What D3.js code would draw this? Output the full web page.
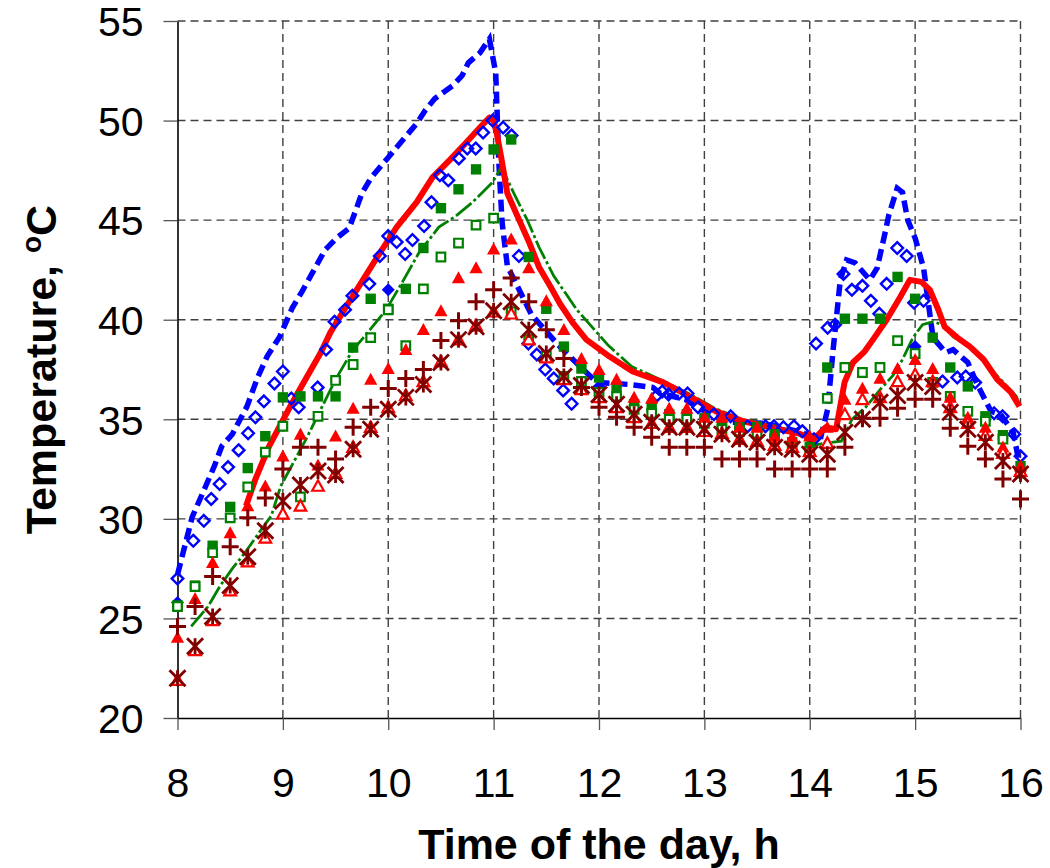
<!DOCTYPE html>
<html>
<head>
<meta charset="utf-8">
<script src="https://cdn.jsdelivr.net/npm/d3@7"></script>
<style>
  body { margin: 0; background: #fff; }
  svg { display: block; font-family: "Liberation Sans", Arial, sans-serif; }
</style>
</head>
<body>
<svg id="chart" width="1050" height="868"></svg>
<script>
'use strict';

// sampling grid of the logged series, minutes after 8:00
const minutes = [0, 10, 20, 30, 40, 50, 60, 70, 80, 90, 100, 110, 120, 130, 140, 150, 160,
  170, 180, 190, 200, 210, 220, 230, 240, 250, 260, 270, 280, 290, 300, 310, 320, 330,
  340, 350, 360, 370, 380, 390, 400, 410, 420, 430, 440, 450, 460, 470, 480];

const plusTemps = [24.6, 25.6, 27.1, 28.6, 30.05, 31.05, 32.5, 33.6, 33.6, 33.0,
  34.6, 35.6, 36.55, 37.05, 37.5, 38.95, 39.95, 40.9, 41.5, 42.1,
  40.9, 39.5, 38.05, 36.6, 35.6, 35.1, 34.6, 34.1, 33.6, 33.6,
  33.6, 33.0, 33.0, 33.0, 32.5, 32.5, 32.5, 32.5, 33.6, 35.05,
  35.05, 35.55, 36.0, 36.0, 34.55, 33.65, 33.0, 32.0, 31.0];

const starTemps = [22.0, 23.6, 25.1, 26.65, 28.1, 29.4, 30.9, 31.7, 32.4, 32.2,
  33.5, 34.5, 35.5, 36.1, 36.75, 37.85, 39.0, 39.65, 40.45, 40.9,
  39.5, 38.3, 37.15, 36.7, 36.25, 35.75, 35.25, 34.85, 34.6, 34.6,
  34.5, 34.25, 34.0, 33.85, 33.6, 33.5, 33.25, 33.25, 34.35, 35.0,
  35.85, 36.2, 36.85, 36.65, 35.35, 34.5, 33.85, 32.9, 32.25];

const triFilledTemps = [24.05, 26.0, 27.8, 29.3, 30.65, 31.65, 33.15, 34.25, 32.7, 34.15,
  35.55, 37.0, 37.55, 38.5, 39.5, 40.45, 42.1, 42.6, 43.55, 44.05,
  42.6, 40.95, 39.5, 38.05, 37.5, 37.0, 36.1, 36.05, 35.55, 35.55,
  35.1, 35.1, 34.6, 34.6, 34.15, 34.1, 34.15, 34.6, 36.0, 36.55,
  37.05, 37.55, 38.0, 37.55, 36.1, 35.1, 34.6, 33.6, 32.65];

const triOpenTemps = [21.9, 23.4, 24.9, 26.4, 27.85, 29.05, 30.25, 30.65, 31.65, 32.3,
  33.6, 34.6, 35.6, 36.2, 36.9, 37.9, 39.0, 39.7, 40.4, 40.3,
  39.0, 38.1, 37.0, 36.5, 36.1, 35.6, 35.1, 34.8, 34.6, 34.6,
  34.4, 34.3, 34.0, 33.9, 33.7, 33.6, 33.4, 33.8, 35.25, 36.0,
  36.1, 36.9, 37.25, 36.9, 35.6, 34.8, 34.2, 33.3, 32.4];

const sqFilledTemps = [25.65, 26.65, 28.65, 30.6, 32.55, 34.15, 36.1, 36.15, 36.15, 36.15,
  38.6, 41.05, 40.55, 41.55, 43.6, 45.6, 46.55, 47.55, 48.55, 49.05,
  43.15, 40.55, 38.65, 37.55, 37.1, 36.6, 35.75, 35.6, 35.25, 35.25,
  35.05, 34.75, 34.6, 34.6, 34.25, 33.85, 33.6, 37.6, 40.05, 40.05,
  40.05, 42.15, 41.05, 39.1, 37.6, 36.65, 35.15, 34.2, 32.65];

const sqOpenTemps = [25.6, 26.6, 28.3, 30.05, 31.6, 33.35, 34.65, 31.1, 35.15, 36.95,
  37.75, 39.1, 40.5, 38.7, 41.55, 43.15, 43.85, 44.75, 45.1, 40.4,
  39.0, 38.2, 37.15, 36.9, 36.35, 36.15, 35.5, 35.3, 35.0, 35.0,
  34.8, 34.5, 34.4, 34.3, 34.0, 33.6, 33.4, 36.05, 37.6, 37.35,
  37.6, 38.95, 38.3, 36.85, 36.15, 35.4, 34.9, 34.0, 32.3];

// mostly hidden behind the other markers, only the visible ones are given
const diamondFilledTemps = [25.8, null, null, null, null, null, null, null, null, null,
  null, null, 41.5, null, null, null, null, null, null, null,
  null, null, null, null, 36.65, null, null, null, null, null,
  null, null, null, null, null, null, null, null, null, null,
  null, null, 38.65, null, null, null, null, null, null];

// open diamonds are logged on their own, denser clock
const diamondHours = [8.00, 8.15, 8.25, 8.32, 8.40, 8.48, 8.58, 8.67, 8.74, 8.82,
  8.92, 9.00, 9.08, 9.15, 9.33, 9.41, 9.49, 9.59, 9.66, 9.82,
  9.92, 10.00, 10.08, 10.16, 10.23, 10.34, 10.41, 10.49, 10.57, 10.67,
  10.75, 10.83, 10.90, 10.99, 11.09, 11.17, 11.24, 11.33, 11.41, 11.49,
  11.57, 11.66, 11.74, 12.55, 12.60, 12.66, 12.76, 12.84, 12.94, 13.09,
  13.25, 13.41, 13.58, 13.66, 13.75, 13.85, 13.93, 14.04, 14.06, 14.17,
  14.24, 14.32, 14.40, 14.50, 14.58, 14.66, 14.73, 14.83, 14.92, 14.99,
  15.08, 15.26, 15.40, 15.48, 15.57, 15.75, 15.83, 15.94, 16.00];
const diamondTemps = [27.0, 28.9, 29.9, 31.0, 31.75, 32.6, 33.45, 34.3, 35.1, 35.9,
  36.8, 37.4, 36.05, 35.6, 36.6, 38.5, 39.9, 40.5, 41.2, 41.8,
  43.2, 44.2, 43.9, 43.3, 44.0, 44.7, 45.9, 47.25, 47.0, 48.1,
  48.6, 48.6, 49.4, 50.0, 49.65, 49.25, 43.2, 38.8, 38.25, 37.5,
  37.05, 36.45, 35.78, 36.2, 36.4, 36.25, 36.3, 36.3, 35.6, 35.25,
  35.15, 34.65, 34.65, 34.65, 34.6, 34.65, 34.4, 34.0, 38.8, 39.6,
  39.75, 42.3, 41.5, 41.7, 40.95, 40.3, 41.8, 43.6, 43.2, 40.85,
  40.95, 36.9, 37.1, 37.15, 36.85, 35.3, 35.15, 34.25, 33.15];

const blueLineHours = [8.00, 8.14, 8.26, 8.35, 8.42, 8.52, 8.66, 8.76, 8.85, 8.97,
  9.09, 9.18, 9.28, 9.40, 9.51, 9.63, 9.75, 9.84, 10.00, 10.11,
  10.27, 10.35, 10.44, 10.61, 10.70, 10.76, 10.87, 10.96, 11.02, 11.05,
  11.08, 11.13, 11.36, 11.61, 11.82, 11.98, 12.28, 12.51, 12.58, 12.82,
  12.96, 13.08, 13.27, 13.56, 13.88, 14.10, 14.17, 14.22, 14.29, 14.35,
  14.43, 14.57, 14.64, 14.71, 14.75, 14.83, 14.88, 14.93, 15.00, 15.08,
  15.17, 15.29, 15.36, 15.50, 15.59, 15.72, 15.81, 15.93, 16.00];
const blueLineTemps = [27.2, 30.1, 31.55, 32.65, 33.65, 34.25, 35.65, 37.1, 38.15, 39.15,
  40.6, 41.4, 42.35, 43.5, 44.1, 44.6, 46.35, 47.15, 48.15, 48.85,
  49.85, 50.5, 51.1, 51.75, 52.25, 52.9, 53.4, 54.1, 52.4, 47.85,
  44.9, 42.7, 40.25, 38.75, 37.65, 36.85, 36.75, 36.6, 36.3, 36.0,
  35.5, 35.3, 34.85, 34.8, 34.4, 34.0, 35.5, 38.4, 42.0, 43.0,
  42.85, 42.0, 42.6, 44.25, 45.25, 46.6, 46.4, 45.0, 44.1, 42.6,
  39.1, 38.35, 38.5, 37.85, 36.75, 35.4, 35.25, 34.35, 32.5];

const redLineHours = [8.65, 8.74, 8.87, 8.99, 9.07, 9.23, 9.36, 9.45, 9.60, 9.76,
  9.92, 10.08, 10.27, 10.42, 10.58, 10.74, 10.87, 10.96, 11.00, 11.03,
  11.07, 11.13, 11.23, 11.34, 11.43, 11.54, 11.63, 11.75, 11.88, 12.10,
  12.32, 12.61, 12.86, 13.11, 13.37, 13.66, 13.89, 14.04, 14.15, 14.25,
  14.33, 14.41, 14.52, 14.60, 14.73, 14.86, 14.95, 15.06, 15.14, 15.22,
  15.28, 15.40, 15.52, 15.65, 15.78, 15.91, 15.99];
const redLineTemps = [30.65, 32.0, 33.65, 34.85, 35.65, 37.15, 38.35, 39.35, 40.65, 42.0,
  43.35, 44.65, 45.9, 47.15, 48.0, 48.9, 49.65, 50.15, 50.0, 49.35,
  48.2, 46.35, 45.15, 43.85, 42.65, 41.65, 40.8, 39.85, 39.0, 38.15,
  37.4, 36.85, 36.15, 35.4, 34.9, 34.55, 34.3, 34.0, 34.6, 34.5,
  36.85, 37.85, 38.4, 39.0, 40.0, 41.15, 42.0, 41.9, 41.5, 40.5,
  39.65, 39.1, 38.65, 38.0, 37.0, 36.35, 35.65];

const greenLineHours = [8.13, 8.29, 8.40, 8.52, 8.64, 8.78, 8.89, 8.98, 9.22, 9.36,
  9.50, 9.66, 9.82, 9.98, 10.13, 10.29, 10.48, 10.64, 10.80, 10.99,
  11.06, 11.12, 11.21, 11.32, 11.43, 11.57, 11.68, 11.79, 12.09, 12.31,
  12.60, 12.85, 13.10, 13.35, 13.66, 13.88, 14.04, 14.15, 14.30, 14.40,
  14.53, 14.67, 14.79, 14.88, 14.98, 15.07, 15.17, 15.26, 15.36, 15.45,
  15.58, 15.70, 15.83, 15.96, 16.00];
const greenLineTemps = [24.6, 25.6, 26.6, 27.5, 28.3, 29.35, 30.15, 31.65, 34.0, 35.5,
  37.0, 38.45, 39.45, 40.5, 41.85, 43.35, 44.65, 45.2, 45.9, 46.9,
  47.55, 47.15, 46.15, 45.0, 43.65, 42.2, 41.35, 40.5, 38.7, 37.65,
  36.95, 36.3, 35.55, 35.0, 34.7, 34.3, 33.7, 33.8, 33.9, 35.0,
  35.6, 36.5, 37.2, 38.0, 39.1, 39.75, 39.9, 39.75, 39.15, 38.85,
  38.35, 37.6, 36.9, 36.15, 35.65];

const xTicks = [8, 9, 10, 11, 12, 13, 14, 15, 16];
const yTicks = [20, 25, 30, 35, 40, 45, 50, 55];

const BLUE = "#0000ff", RED = "#ff0000", GREEN = "#008000", MAROON = "#800000";

const svg = d3.select("#chart");
const x = d3.scaleLinear().domain([8, 16]).range([177.5, 1020.5]);
const y = d3.scaleLinear().domain([20, 55]).range([718, 21]);
const hourOf = m => 8 + m / 60;

// grid
const grid = svg.append("g").attr("stroke", "#404040").attr("stroke-width", 1.4)
  .attr("stroke-dasharray", "8,5");
grid.selectAll(".vg").data(xTicks.slice(1)).enter().append("line")
  .attr("x1", d => x(d)).attr("x2", d => x(d))
  .attr("y1", y(55)).attr("y2", y(20));
grid.selectAll(".hg").data(yTicks.slice(1)).enter().append("line")
  .attr("x1", x(8)).attr("x2", x(16))
  .attr("y1", d => y(d)).attr("y2", d => y(d));

// axes
const xAxis = svg.append("g")
  .attr("transform", "translate(0," + y(20) + ")")
  .call(d3.axisBottom(x).tickValues(xTicks).tickFormat(d3.format("d"))
    .tickSize(12).tickSizeOuter(0).tickPadding(38));
const yAxis = svg.append("g")
  .attr("transform", "translate(" + x(8) + ",0)")
  .call(d3.axisLeft(y).tickValues(yTicks).tickFormat(d3.format("d"))
    .tickSize(14).tickSizeOuter(0).tickPadding(20));

[xAxis, yAxis].forEach(g => {
  g.select(".domain").attr("stroke", "#000").attr("stroke-width", 1.6);
  g.selectAll(".tick line").attr("stroke", "#555").attr("stroke-width", 1.3);
  g.selectAll(".tick text").attr("fill", "#000")
    .style("font-size", "41px").style("font-family", '"Liberation Sans", Arial, sans-serif');
});
yAxis.selectAll(".tick text").attr("dy", "0.36em");

// titles
svg.append("text")
  .attr("x", (x(8) + x(16)) / 2).attr("y", 859)
  .attr("text-anchor", "middle")
  .style("font-size", "43px").style("font-weight", "bold")
  .text("Time of the day, h");

const yTitle = svg.append("text")
  .attr("transform", "translate(56," + (y(20) + y(55)) / 2 + ") rotate(-90)")
  .attr("text-anchor", "middle")
  .style("font-size", "43px").style("font-weight", "bold");
yTitle.append("tspan").text("Temperature, ");
yTitle.append("tspan").attr("dy", -15).style("font-size", "28px").text("o");
yTitle.append("tspan").attr("dy", 15).text("C");

// lines
const line = d3.line().x(d => x(d[0])).y(d => y(d[1]));
const plot = svg.append("g");

plot.append("path")
  .attr("d", line(d3.zip(blueLineHours, blueLineTemps)))
  .attr("fill", "none").attr("stroke", BLUE).attr("stroke-width", 5.5)
  .attr("stroke-dasharray", "12,6");
plot.append("path")
  .attr("d", line(d3.zip(greenLineHours, greenLineTemps)))
  .attr("fill", "none").attr("stroke", GREEN).attr("stroke-width", 2.8)
  .attr("stroke-dasharray", "20,3,3,3");
plot.append("path")
  .attr("d", line(d3.zip(redLineHours, redLineTemps)))
  .attr("fill", "none").attr("stroke", RED).attr("stroke-width", 6)
  .attr("stroke-linejoin", "round");

// marker glyphs
const glyph = {
  diamond: r => `M0,${-r}L${r},0L0,${r}L${-r},0Z`,
  square: r => `M${-r},${-r}H${r}V${r}H${-r}Z`,
  triangle: r => `M0,${-r}L${r},${r * 0.82}L${-r},${r * 0.82}Z`,
  plus: r => `M${-r},0H${r}M0,${-r}V${r}`,
  star: r => `M${-r},${-r}L${r},${r}M${-r},${r}L${r},${-r}M0,${-r}V${r}`
};

const markerSeries = [
  {hours: diamondHours, temps: diamondTemps, shape: "diamond", r: 5.8, fill: "none", stroke: BLUE, sw: 2.4},
  {hours: minutes.map(hourOf), temps: diamondFilledTemps, shape: "diamond", r: 6.5, fill: BLUE, stroke: "none", sw: 0},
  {hours: minutes.map(hourOf), temps: sqFilledTemps, shape: "square", r: 5.2, fill: GREEN, stroke: "none", sw: 0},
  {hours: minutes.map(hourOf), temps: sqOpenTemps, shape: "square", r: 4.3, fill: "#fff", stroke: GREEN, sw: 2.2},
  {hours: minutes.map(hourOf), temps: triFilledTemps, shape: "triangle", r: 6.6, fill: RED, stroke: "none", sw: 0},
  {hours: minutes.map(hourOf), temps: triOpenTemps, shape: "triangle", r: 5.8, fill: "#fff", stroke: RED, sw: 2.2},
  {hours: minutes.map(hourOf), temps: plusTemps, shape: "plus", r: 8.5, fill: "none", stroke: MAROON, sw: 3},
  {hours: minutes.map(hourOf), temps: starTemps, shape: "star", r: 8, fill: "none", stroke: MAROON, sw: 2.8}
];

markerSeries.forEach(s => {
  const pts = d3.zip(s.hours, s.temps).filter(d => d[1] != null);
  plot.append("g").selectAll("path").data(pts).enter().append("path")
    .attr("transform", d => "translate(" + x(d[0]) + "," + y(d[1]) + ")")
    .attr("d", glyph[s.shape](s.r))
    .attr("fill", s.fill).attr("stroke", s.stroke).attr("stroke-width", s.sw);
});
</script>
</body>
</html>
